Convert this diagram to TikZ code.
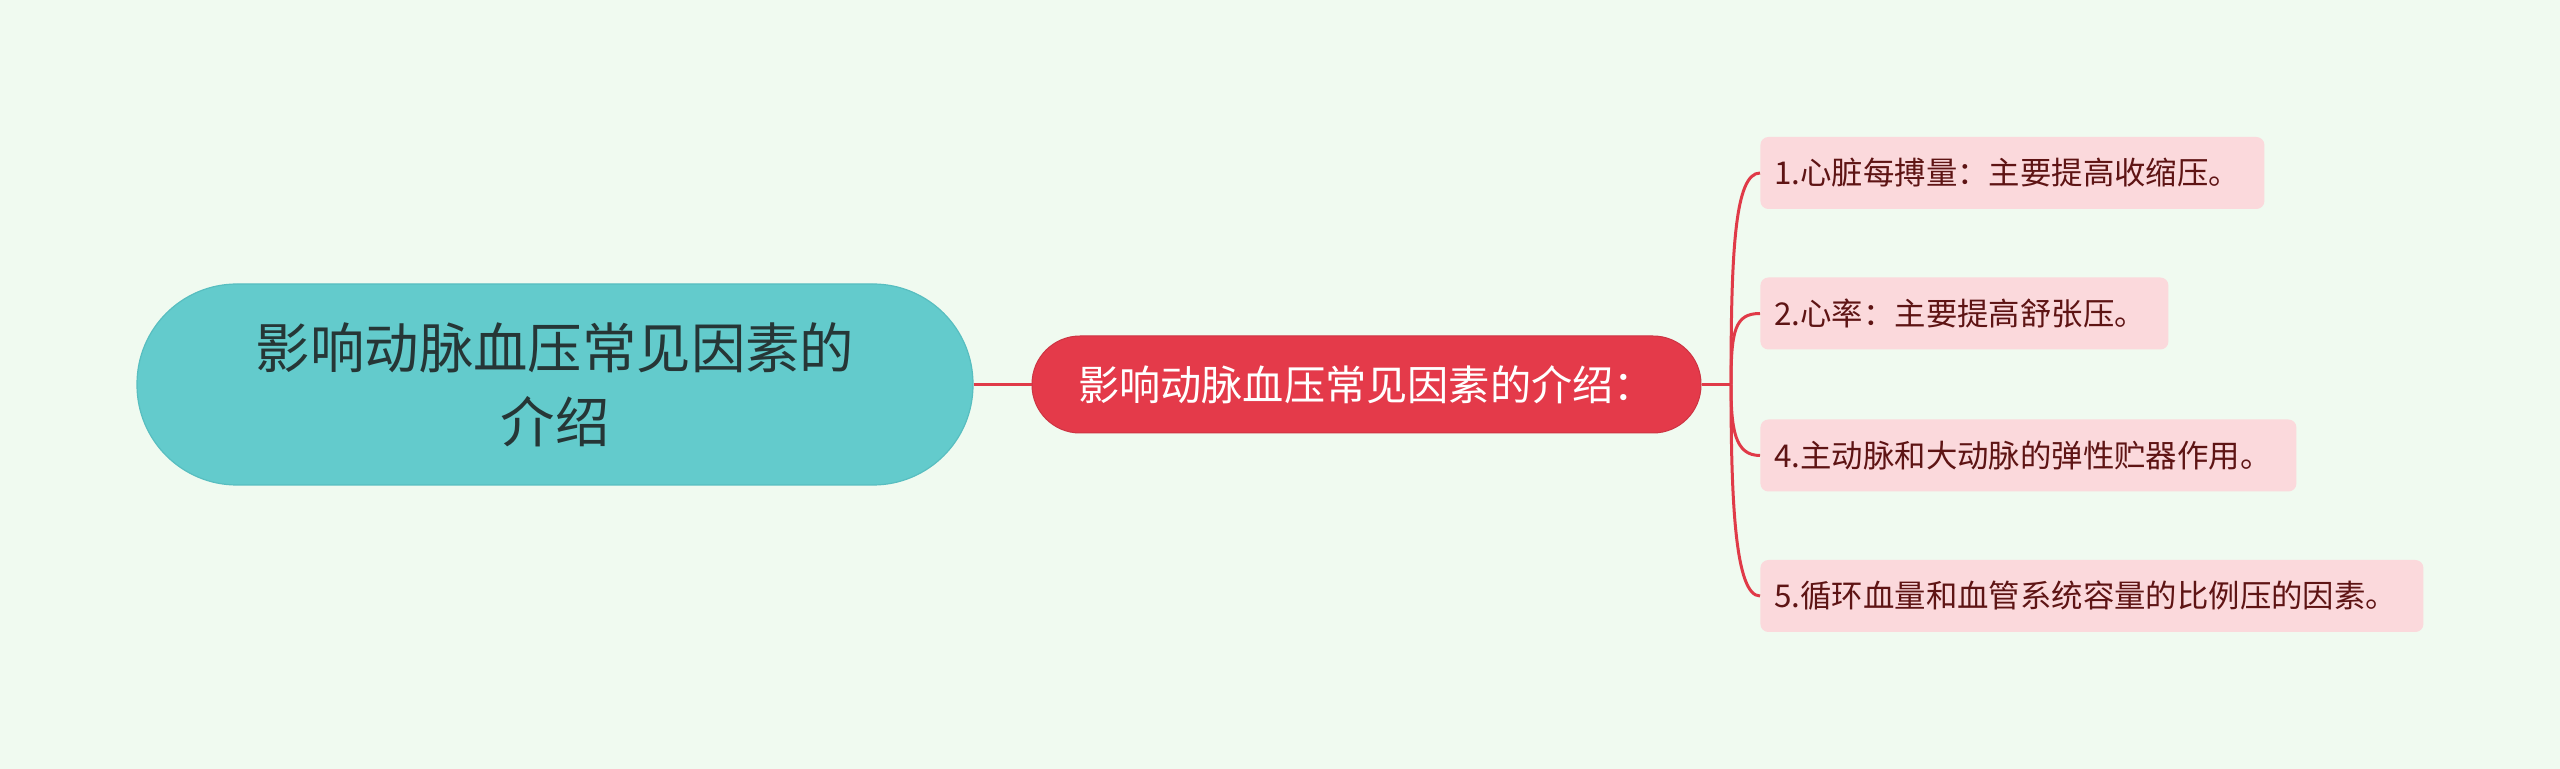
\documentclass[tikz,border=0pt]{standalone}
\usepackage{fontspec}
\setmainfont{Noto Sans CJK SC}
\definecolor{bgc}{HTML}{F0FAF0}
\definecolor{rootfill}{HTML}{63CBCC}
\definecolor{rootdraw}{HTML}{58BEC0}
\definecolor{roottext}{HTML}{263636}
\definecolor{midfill}{HTML}{E43A4A}
\definecolor{leaffill}{HTML}{FBD9DC}
\definecolor{leaftext}{HTML}{5E1414}
\definecolor{linec}{HTML}{E03A48}
\tikzset{
  rootbox/.style={draw=rootdraw, line width=0.6pt, fill=rootfill, text=roottext,
    minimum width=418pt, minimum height=100.5pt, rounded corners=50pt, inner sep=0pt,
    align=center, font=\fontsize{27.2pt}{36.8pt}\selectfont},
  midbox/.style={draw=midfill!90!black, line width=0.5pt, fill=midfill, text=white,
    minimum width=334.5pt, minimum height=48.5pt, rounded corners=24pt, inner sep=0pt,
    font=\fontsize{20.6pt}{24pt}\selectfont},
  leafbox/.style={fill=leaffill, text=leaftext, anchor=west, minimum height=36pt,
    rounded corners=4pt, inner xsep=7pt, inner ysep=0pt, align=left,
    font=\fontsize{15.7pt}{19pt}\selectfont},
  conn/.style={draw=linec, line width=1.5pt},
}
\begin{document}
\begin{tikzpicture}[x=0.5pt,y=-0.5pt]
\fill[bgc] (0,0) rectangle (2560,769);
\useasboundingbox (0,0) rectangle (2560,769);
\node[rootbox] (root) at (555,384.5) {影响动脉血压常见因素的\\介绍};
\node[midbox] (mid) at (1366.5,384.5) {影响动脉血压常见因素的介绍：};
\node[leafbox, minimum width=252pt, text width=238pt] (l1) at (1760,173) {1.心脏每搏量：主要提高收缩压。};
\node[leafbox, minimum width=204pt, text width=190pt] (l2) at (1760,313.5) {2.心率：主要提高舒张压。};
\node[leafbox, minimum width=268pt, text width=254pt] (l3) at (1760,455.5) {4.主动脉和大动脉的弹性贮器作用。};
\node[leafbox, minimum width=331.5pt, text width=317.5pt] (l4) at (1760,596) {5.循环血量和血管系统容量的比例压的因素。};
\coordinate (fork) at (1731,384.5);
\draw[conn] (root.east) -- (mid.west);
\draw[conn] (mid.east) -- (fork);
\draw[conn] (fork) .. controls (1731,250) and (1735,173) .. (l1.west);
\draw[conn] (fork) .. controls (1731,330) and (1735,313.5) .. (l2.west);
\draw[conn] (fork) .. controls (1731,430) and (1735,455.5) .. (l3.west);
\draw[conn] (fork) .. controls (1731,500) and (1735,596) .. (l4.west);
\end{tikzpicture}
\end{document}
